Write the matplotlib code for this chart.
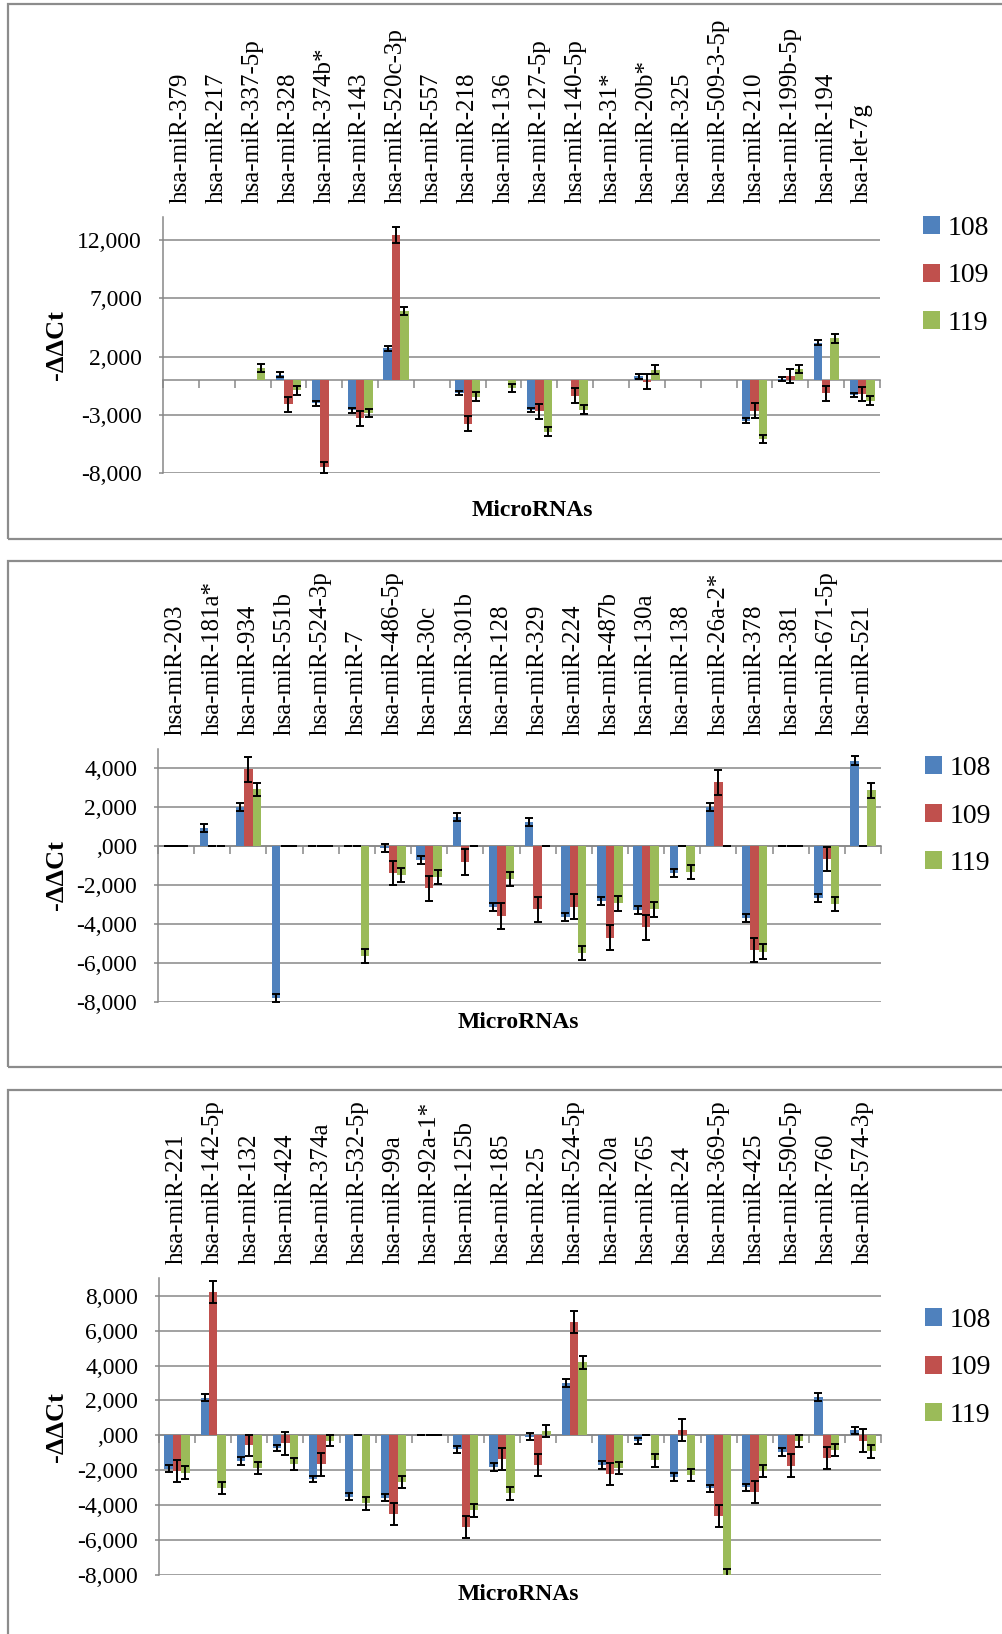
import numpy as np
import matplotlib.pyplot as plt
from matplotlib.patches import Rectangle

plt.rcParams['font.family'] = ['Liberation Serif', 'DejaVu Serif']

series = ['108', '109', '119']
colors = ['#4F81BD', '#C0504D', '#9BBB59']

# --- panel 1 ---
mirs_1 = ['hsa-miR-379', 'hsa-miR-217', 'hsa-miR-337-5p', 'hsa-miR-328', 'hsa-miR-374b*',
          'hsa-miR-143', 'hsa-miR-520c-3p', 'hsa-miR-557', 'hsa-miR-218', 'hsa-miR-136',
          'hsa-miR-127-5p', 'hsa-miR-140-5p', 'hsa-miR-31*', 'hsa-miR-20b*', 'hsa-miR-325',
          'hsa-miR-509-3-5p', 'hsa-miR-210', 'hsa-miR-199b-5p', 'hsa-miR-194', 'hsa-let-7g']
v108_1 = [0, 0, 0, 0.46, -2.0, -2.6, 2.71, 0, -1.11, 0, -2.57, 0, 0, 0.3, 0, 0, -3.49, 0.1, 3.2, -1.29]
v109_1 = [0, 0, 0, -2.09, -7.49, -3.29, 12.43, 0, -3.77, 0, -2.69, -1.34, 0, -0.14, 0, 0, -2.63, 0.34, -1.14, -1.2]
v119_1 = [0, 0, 1.0, -0.9, 0, -2.86, 5.94, 0, -1.43, -0.71, -4.43, -2.54, 0, 0.89, 0, 0, -5.06, 0.94, 3.57, -1.77]
e108_1 = [0, 0, 0, 0.2, 0.2, 0.19, 0.21, 0, 0.2, 0, 0.21, 0, 0, 0.19, 0, 0, 0.21, 0.19, 0.24, 0.21]
e109_1 = [0, 0, 0, 0.66, 0.5, 0.63, 0.66, 0, 0.64, 0, 0.64, 0.64, 0, 0.64, 0, 0, 0.64, 0.61, 0.64, 0.64]
e119_1 = [0, 0, 0.33, 0.36, 0, 0.34, 0.36, 0, 0.36, 0.36, 0.36, 0.36, 0, 0.36, 0, 0, 0.36, 0.36, 0.37, 0.36]

# --- panel 2 ---
mirs_2 = ['hsa-miR-203', 'hsa-miR-181a*', 'hsa-miR-934', 'hsa-miR-551b', 'hsa-miR-524-3p',
          'hsa-miR-7', 'hsa-miR-486-5p', 'hsa-miR-30c', 'hsa-miR-301b', 'hsa-miR-128',
          'hsa-miR-329', 'hsa-miR-224', 'hsa-miR-487b', 'hsa-miR-130a', 'hsa-miR-138',
          'hsa-miR-26a-2*', 'hsa-miR-378', 'hsa-miR-381', 'hsa-miR-671-5p', 'hsa-miR-521']
v108_2 = [0, 0.91, 1.99, -7.8, 0, 0, -0.1, -0.72, 1.51, -3.12, 1.25, -3.67, -2.81, -3.29, -1.39, 2.02, -3.7, 0, -2.69, 4.39]
v109_2 = [0, 0, 3.94, 0, 0, 0, -1.39, -2.18, -0.82, -3.6, -3.26, -3.12, -4.71, -4.18, 0, 3.27, -5.35, 0, -0.67, 0]
v119_2 = [0, 0, 2.91, 0, 0, -5.67, -1.49, -1.61, 0, -1.68, 0, -5.5, -2.95, -3.26, -1.34, 0, -5.43, 0, -2.98, 2.86]
e108_2 = [0, 0.21, 0.21, 0.2, 0, 0, 0.21, 0.21, 0.21, 0.21, 0.21, 0.21, 0.21, 0.21, 0.21, 0.21, 0.21, 0, 0.21, 0.23]
e109_2 = [0, 0, 0.64, 0, 0, 0, 0.64, 0.65, 0.66, 0.65, 0.66, 0.64, 0.66, 0.64, 0, 0.64, 0.64, 0, 0.64, 0]
e119_2 = [0, 0, 0.35, 0, 0, 0.36, 0.38, 0.35, 0, 0.36, 0, 0.36, 0.38, 0.37, 0.37, 0, 0.38, 0, 0.38, 0.37]

# --- panel 3 ---
mirs_3 = ['hsa-miR-221', 'hsa-miR-142-5p', 'hsa-miR-132', 'hsa-miR-424', 'hsa-miR-374a',
          'hsa-miR-532-5p', 'hsa-miR-99a', 'hsa-miR-92a-1*', 'hsa-miR-125b', 'hsa-miR-185',
          'hsa-miR-25', 'hsa-miR-524-5p', 'hsa-miR-20a', 'hsa-miR-765', 'hsa-miR-24',
          'hsa-miR-369-5p', 'hsa-miR-425', 'hsa-miR-590-5p', 'hsa-miR-760', 'hsa-miR-574-3p']
v108_3 = [-1.91, 2.17, -1.47, -0.72, -2.48, -3.51, -3.57, 0, -0.8, -1.83, -0.08, 2.99, -1.7, -0.32, -2.38, -3.03, -2.97, -0.95, 2.19, 0.29]
v109_3 = [-2.04, 8.22, -0.57, -0.46, -1.66, 0, -4.5, 0, -5.26, -1.35, -1.7, 6.48, -2.21, 0, 0.32, -4.63, -3.26, -1.74, -1.3, -0.31]
v119_3 = [-2.14, -3.01, -1.89, -1.64, -0.31, -3.89, -2.67, 0, -4.29, -3.32, 0.25, 4.18, -1.87, -1.43, -2.27, -8.0, -2.04, -0.31, -0.82, -0.9]
e108_3 = [0.19, 0.22, 0.21, 0.19, 0.18, 0.21, 0.21, 0, 0.21, 0.22, 0.21, 0.22, 0.21, 0.19, 0.23, 0.21, 0.21, 0.23, 0.23, 0.19]
e109_3 = [0.62, 0.64, 0.62, 0.64, 0.65, 0, 0.64, 0, 0.64, 0.64, 0.64, 0.63, 0.64, 0, 0.64, 0.64, 0.64, 0.65, 0.64, 0.65]
e119_3 = [0.36, 0.34, 0.35, 0.36, 0.31, 0.36, 0.37, 0, 0.37, 0.36, 0.36, 0.35, 0.36, 0.38, 0.36, 0.36, 0.37, 0.36, 0.35, 0.37]

W, H = 1003, 1634
GRID = '#878787'


def fig_box(l, t, r, b):
    return [l / W, 1 - b / H, (r - l) / W, (b - t) / H]


def fmt(v, pos=None):
    if abs(v) < 1e-9:
        return ',000'
    return f'{v:.3f}'.replace('.', ',')


panels = [
    dict(mirs=mirs_1, vals=[v108_1, v109_1, v119_1], errs=[e108_1, e109_1, e119_1],
         box=(163, 216.7, 880, 473.3), ylim=(-8, 14), yticks=[-8, -3, 2, 7, 12],
         frame=(8, 4, 1012, 539), xlab=(532, 511), leg=(923, 216), zero_caps=False),
    dict(mirs=mirs_2, vals=[v108_2, v109_2, v119_2], errs=[e108_2, e109_2, e119_2],
         box=(158, 748.7, 881, 1001.6), ylim=(-8, 5), yticks=list(range(-8, 5, 2)),
         frame=(8, 561, 1012, 1067), xlab=(518, 1022), leg=(925, 756), zero_caps=True),
    dict(mirs=mirs_3, vals=[v108_3, v109_3, v119_3], errs=[e108_3, e109_3, e119_3],
         box=(159, 1278.3, 881, 1575), ylim=(-8, 9), yticks=list(range(-8, 9, 2)),
         frame=(8, 1090, 1012, 1650), xlab=(518, 1595), leg=(925, 1308), zero_caps=True),
]

fig = plt.figure(figsize=(W / 100, H / 100), dpi=100)

for p in panels:
    fl, ft, fr, fb = p['frame']
    fig.patches.append(Rectangle((fl / W, 1 - fb / H), (fr - fl) / W, (fb - ft) / H,
                                 transform=fig.transFigure, fill=False,
                                 edgecolor='#8c8c8c', linewidth=1.6))

    ax = fig.add_axes(fig_box(*p['box']))
    x = np.arange(len(p['mirs']))
    bw = 0.233
    handles = []
    for k in range(3):
        xs = x + (k - 1) * bw
        vals = np.array(p['vals'][k])
        errs = np.array(p['errs'][k])
        h = ax.bar(xs, vals, width=bw, color=colors[k], linewidth=0,
                   label=series[k], zorder=2)
        handles.append(h)
        keep = np.ones(len(x), bool) if p['zero_caps'] else errs > 0
        ax.errorbar(xs[keep], vals[keep], yerr=errs[keep], fmt='none', ecolor='black',
                    elinewidth=1.4, capsize=2.9, capthick=1.4, zorder=3)

    ax.set_xlim(-0.5, len(x) - 0.5)
    ax.set_ylim(*p['ylim'])
    ax.set_yticks(p['yticks'])
    ax.yaxis.set_major_formatter(plt.FuncFormatter(fmt))
    ax.grid(axis='y', color=GRID, linewidth=1.1)
    ax.set_axisbelow(True)
    ax.tick_params(axis='y', labelsize=17, color=GRID, length=3, width=1.1, pad=12)

    for s in ['top', 'right']:
        ax.spines[s].set_visible(False)
    ax.spines['left'].set_color(GRID)
    ax.spines['left'].set_linewidth(1.1)
    ax.spines['bottom'].set_position(('data', 0))
    ax.spines['bottom'].set_color(GRID)
    ax.spines['bottom'].set_linewidth(1.1)
    ax.spines['bottom'].set_zorder(1)
    ax.set_xticks([])
    ax.set_xticks(np.arange(-0.5, len(x)), minor=True)
    ax.tick_params(axis='x', which='minor', direction='out', length=6, color=GRID, width=1.1)

    sec = ax.secondary_xaxis('top')
    sec.set_xticks(x, labels=p['mirs'], rotation=90, fontsize=18)
    sec.tick_params(length=0, pad=10)
    sec.spines['top'].set_visible(False)

    l, t, r, b = p['box']
    fig.text(57 / W, 1 - (t + b) / 2 / H, '-ΔΔCt', rotation=90, ha='center', va='center',
             fontsize=19, fontweight='bold')
    fig.text(p['xlab'][0] / W, 1 - p['xlab'][1] / H, 'MicroRNAs', ha='center', va='center',
             fontsize=17, fontweight='bold')

    lx, ly = p['leg']
    fig.legend(handles=handles, labels=series, loc='upper left',
               bbox_to_anchor=(lx / W, 1 - ly / H), frameon=False, fontsize=20,
               handlelength=0.6, handleheight=0.6, handletextpad=0.3, labelspacing=0.81,
               borderpad=0, borderaxespad=0)

fig.savefig('out.png', dpi=100)
